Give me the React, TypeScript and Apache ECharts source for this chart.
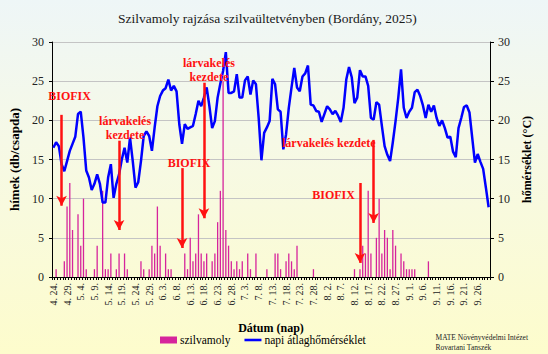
import React, { useEffect, useRef } from "react";
import * as echarts from "echarts";

// ---- categories (dates 4.24 – 9.30) ----
const MONTHS = [4, 5, 6, 7, 8, 9];
const MONTH_DAYS = [30, 31, 30, 31, 31, 30];
const START_DAY = 24;
const dates: string[] = [];
MONTHS.forEach((m, k) => {
  for (let d = k === 0 ? START_DAY : 1; d <= MONTH_DAYS[k]; d++) dates.push(`${m}. ${d}.`);
});

// ---- szilvamoly catches (db/csapda) ----
const catches = [
  0, 1, 0, 0, 2, 9, 12, 6, 0, 8,
  4, 10, 1, 0, 0, 1, 4, 0, 11, 1,
  1, 3, 0, 1, 3, 0, 3, 1, 0, 0,
  0, 0, 2, 1, 0, 1, 4, 3, 9, 4,
  0, 3, 1, 1, 0, 0, 0, 0, 3, 1,
  5, 2, 3, 8, 3, 2, 3, 0, 2, 3,
  7, 11, 25, 6, 4, 2, 1, 2, 1, 2,
  0, 3, 1, 0, 3, 0, 0, 0, 1, 0,
  0, 3, 3, 1, 0, 2, 3, 2, 1, 4,
  0, 0, 0, 0, 0, 1, 0, 0, 0, 0,
  0, 0, 0, 0, 0, 0, 0, 0, 0, 0,
  1, 0, 1, 4, 3, 11, 3, 0, 5, 10,
  3, 6, 5, 1, 6, 4, 0, 3, 2, 1,
  1, 1, 1, 0, 0, 0, 0, 2, 0, 0,
  0, 0, 0, 0, 0, 0, 0, 0, 0, 0,
  0, 0, 0, 0, 0, 0, 0, 0, 0, 0,
];

// ---- napi átlaghőmérséklet (°C) ----
const temperature = [
  16.5, 17.2, 16.7, 14.4, 13.5, 14.8, 16.1, 17.0, 17.9, 20.8,
  21.1, 17.8, 13.6, 12.7, 11.1, 11.9, 13.1, 11.9, 9.5, 9.5,
  12.7, 14.4, 10.1, 11.9, 13.1, 15.0, 16.5, 14.6, 17.8, 14.8,
  11.4, 12.1, 14.8, 18.0, 18.6, 18.0, 16.1, 19.1, 21.8, 23.1,
  23.8, 24.1, 25.2, 23.8, 24.4, 23.7, 19.5, 17.0, 19.5, 18.9,
  19.1, 19.3, 20.8, 22.5, 21.8, 22.9, 24.2, 21.8, 19.0, 19.9,
  22.9, 24.7, 26.3, 28.7, 23.5, 23.5, 23.7, 25.9, 22.9, 22.9,
  25.1, 25.6, 23.3, 25.1, 24.6, 20.3, 14.9, 18.4, 19.1, 19.9,
  25.3, 24.6, 21.4, 21.1, 16.3, 18.2, 21.6, 24.2, 26.7, 24.2,
  23.7, 25.6, 26.0, 27.0, 22.0, 21.9, 21.2, 21.1, 19.8, 20.8,
  21.8, 21.4, 20.8, 21.2, 20.6, 19.8, 21.6, 25.2, 26.8, 25.5,
  22.2, 22.9, 26.4, 25.6, 25.6, 24.4, 20.3, 20.1, 22.3, 22.0,
  19.3, 16.7, 15.6, 14.8, 17.2, 19.9, 22.9, 26.5, 21.6, 20.3,
  21.1, 21.6, 23.6, 23.9, 23.1, 21.9, 20.3, 22.0, 21.1, 21.9,
  20.3, 19.3, 20.0, 19.0, 17.8, 17.9, 16.0, 15.3, 19.0, 20.3,
  21.7, 21.9, 21.0, 17.8, 14.6, 15.7, 14.7, 13.8, 11.4, 8.9,
];

// ---- annotations (date, arrow top value, arrow tip value, text) ----
const annotDates = ["4. 27.", "5. 18.", "6. 10.", "6. 18.", "8. 14.", "8. 19."];
const annotTop = [20.7, 17.4, 13.9, 24.8, 12.0, 17.5];
const annotTip = [9.1, 6.0, 3.7, 7.5, 1.8, 6.9];
const annotText = [
  "BIOFIX",
  "lárvakelés\nkezdete",
  "BIOFIX",
  "lárvakelés\nkezdete",
  "BIOFIX",
  "lárvakelés kezdete",
];
// label layout (styling only)
const annotOffset = [[8, -19], [6, -13], [7, -5], [5, -13], [-5, 12], [2, 3]];
const annotAlign = ["center", "center", "center", "center", "right", "right"];

const yTicks = { min: 0, max: 30, interval: 5 };

const FONT = "'Liberation Serif', 'DejaVu Serif', serif";
const RED = "#ff1111";

export default function App() {
  const ref = useRef<HTMLDivElement>(null);
  useEffect(() => {
    document.body.style.margin = "0";
    const chart = echarts.init(ref.current!, null, { renderer: "svg" });
    const markLineData = annotDates.map((d, i) => [
      { coord: [d, annotTop[i]], symbol: "none" },
      { coord: [d, annotTip[i]], symbol: "arrow" },
    ]);
    const markPointData = annotDates.map((d, i) => ({
      coord: [d, annotTop[i]],
      symbol: "circle",
      symbolSize: 1,
      itemStyle: { color: "rgba(0,0,0,0)" },
      label: {
        show: true,
        formatter: annotText[i],
        position: "inside",
        offset: annotOffset[i],
        align: annotAlign[i],
        verticalAlign: "middle",
        color: RED,
        fontWeight: "bold",
        fontSize: 12,
        lineHeight: 14,
        fontFamily: FONT,
      },
    }));
    chart.setOption({
      animation: false,
      backgroundColor: "transparent",
      textStyle: { fontFamily: FONT },
      title: {
        text: "Szilvamoly rajzása szilvaültetvényben (Bordány, 2025)",
        left: 113,
        top: 6,
        textStyle: { fontFamily: FONT, fontSize: 13.5, fontWeight: "normal", color: "#1a1a1a" },
      },
      grid: { left: 48, right: 58, top: 42, bottom: 77 },
      legend: {
        left: 160,
        top: 334,
        padding: 0,
        itemWidth: 17,
        itemHeight: 7,
        itemGap: 14,
        textStyle: { fontFamily: FONT, fontSize: 11.5, color: "#000", padding: [0, 0, 0, -2] },
        data: [
          { name: "szilvamoly", icon: "rect" },
          { name: "napi átlaghőmérséklet", icon: "path://M0 0H20V3H0Z" },
        ],
      },
      xAxis: {
        type: "category",
        data: dates,
        name: "Dátum (nap)",
        nameLocation: "middle",
        nameGap: 45,
        nameTextStyle: { fontFamily: FONT, fontSize: 12, fontWeight: "bold", color: "#000" },
        axisLine: { lineStyle: { color: "#000", width: 1 } },
        axisTick: { show: true, interval: 0, length: 3, lineStyle: { color: "#000" } },
        axisLabel: { interval: 4, rotate: 90, fontSize: 10, fontFamily: FONT, color: "#222", margin: 6 },
      },
      yAxis: [
        {
          type: "value",
          ...yTicks,
          name: "hímek (db/csapda)",
          nameLocation: "middle",
          nameGap: 31,
          nameRotate: 90,
          nameTextStyle: { fontFamily: FONT, fontSize: 13, fontWeight: "bold", color: "#000" },
          axisLine: { show: true, lineStyle: { color: "#000" } },
          axisTick: { show: true, length: 3, lineStyle: { color: "#000" } },
          axisLabel: { fontFamily: FONT, fontSize: 12, color: "#222", margin: 8 },
          splitLine: { show: true, lineStyle: { color: "#c4c4c4", width: 1 } },
        },
        {
          type: "value",
          ...yTicks,
          position: "right",
          name: "hőmérséklet (°C)",
          nameLocation: "middle",
          nameGap: 31,
          nameRotate: 90,
          nameTextStyle: { fontFamily: FONT, fontSize: 12, fontWeight: "bold", color: "#000" },
          axisLine: { show: true, lineStyle: { color: "#000" } },
          axisTick: { show: true, length: 4, lineStyle: { color: "#000" } },
          axisLabel: { fontFamily: FONT, fontSize: 12, color: "#222", margin: 8 },
          splitLine: { show: false },
        },
      ],
      series: [
        {
          name: "szilvamoly",
          type: "bar",
          data: catches,
          barWidth: 1.3,
          itemStyle: { color: "#d6249c" },
          z: 2,
        },
        {
          name: "napi átlaghőmérséklet",
          type: "line",
          yAxisIndex: 1,
          data: temperature,
          symbol: "none",
          lineStyle: { color: "#0000ff", width: 2.5 },
          itemStyle: { color: "#0000ff" },
          z: 3,
          markLine: {
            silent: true,
            symbolSize: [8, 10],
            lineStyle: { color: RED, width: 2.5, type: "solid" },
            label: { show: false },
            data: markLineData,
          },
          markPoint: {
            silent: true,
            data: markPointData,
          },
        },
      ],
      graphic: [
        {
          type: "text",
          right: 20,
          top: 332,
          style: {
            text: "MATE Növényvédelmi Intézet\nRovartani Tanszék",
            align: "right",
            fontFamily: FONT,
            fontSize: 7.5,
            lineHeight: 10,
            fill: "#222",
          },
        },
      ],
    });
    return () => chart.dispose();
  }, []);
  return (
    <div
      ref={ref}
      style={{
        position: "absolute",
        left: 0,
        top: 0,
        width: 548,
        height: 354,
        background: "linear-gradient(to bottom, #eef6f7 0%, #f6f9e6 40%, #fdfccc 100%)",
      }}
    />
  );
}
